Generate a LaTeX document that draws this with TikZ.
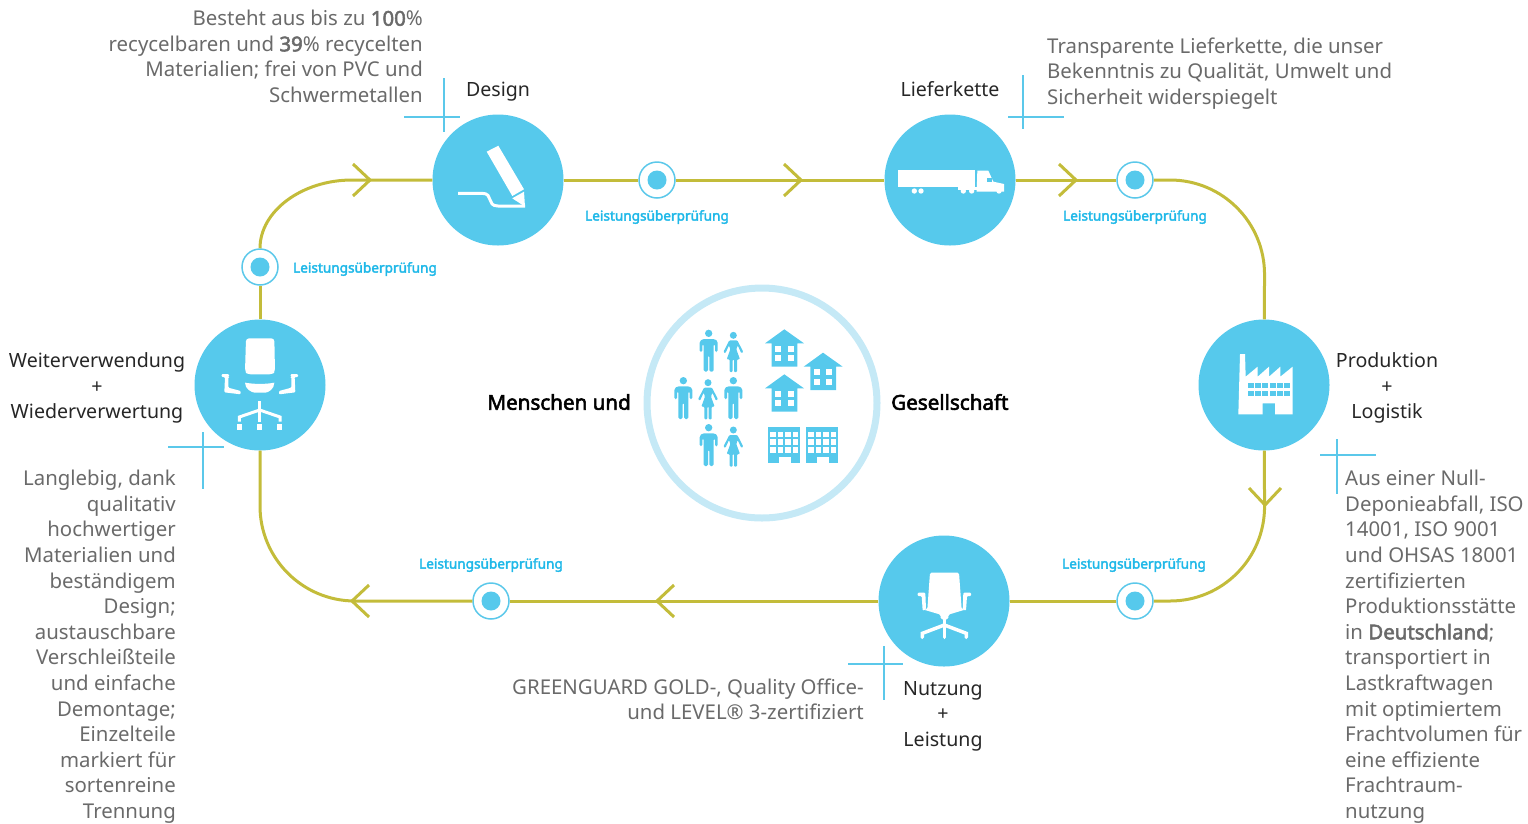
\documentclass[tikz,border=0pt]{standalone}
\usepackage{fontspec}
\setmainfont{Noto Sans}[BoldFont={Noto Sans},BoldFeatures={FakeBold=2.6}]
\definecolor{hubblue}{HTML}{56C9EC}
\definecolor{ringblue}{HTML}{C5E9F6}
\definecolor{markblue}{HTML}{5BC8EA}
\definecolor{checkblue}{HTML}{1FB8E8}
\definecolor{loopgreen}{HTML}{C3BC3A}
\definecolor{greytext}{HTML}{6A6A6A}
\definecolor{darktext}{HTML}{262626}
\tikzset{
    hub/.style={circle, fill=hubblue, minimum size=131pt, inner sep=0pt},
    checkring/.style={circle, draw=markblue, fill=white, line width=1.5pt, minimum size=36pt, inner sep=0pt},
    checkdot/.style={circle, fill=hubblue, minimum size=19pt, inner sep=0pt},
    checklabel/.style={text=checkblue, font=\fontsize{13.6}{15}\selectfont\bfseries, inner sep=0pt},
    steplabel/.style={text=darktext, font=\fontsize{19.6}{25.4}\selectfont, align=center, inner sep=0pt},
    bodytext/.style={text=greytext, font=\fontsize{20.4}{25.6}\selectfont, inner sep=0pt},
    midlabel/.style={text=black, font=\fontsize{20.6}{24}\selectfont\bfseries, inner sep=0pt},
    loopline/.style={draw=loopgreen, line width=3pt},
    markline/.style={draw=markblue, line width=1.5pt},
    chevicon/.pic={\draw[loopline] (-17,-16) -- (0,0) -- (-17,16);},
    manicon/.pic={
        \fill[hubblue] (0,0) circle[radius=11];
        \fill[hubblue, rounded corners=1.5pt] (-27,24) -- (-18,17) -- (18,17) -- (27,24) -- (27,56) -- (19,56) -- (19,32) -- (15,32) -- (15,115) -- (2,115) -- (2,66) -- (-2,66) -- (-2,115) -- (-15,115) -- (-15,32) -- (-19,32) -- (-19,56) -- (-27,56) -- cycle;
    },
    womanicon/.pic={
        \fill[hubblue] (0,0) circle[radius=10.5];
        \fill[hubblue, rounded corners=1pt] (-12,15) -- (12,15) -- (30,50) -- (24,54) -- (13,30) -- (9,42) -- (20,72) -- (11,72) -- (11,110) -- (2,110) -- (2,72) -- (-2,72) -- (-2,110) -- (-11,110) -- (-11,72) -- (-20,72) -- (-9,42) -- (-13,30) -- (-24,54) -- (-30,50) -- cycle;
    },
    houseicon/.pic={
        \fill[hubblue] (0,0) -- (59,42) -- (39,42) -- (39,112) -- (-38,112) -- (-38,42) -- (-58,42) -- cycle;
        \foreach \wx in {-28,10}
            \foreach \wy in {50,78}
                \fill[white] (\wx,\wy) rectangle ++(18,18);
    },
    blockicon/.pic={
        \fill[hubblue] (0,0) rectangle (95,110);
        \foreach \wx in {5,27.5,50,72.5}
            \foreach \wy in {15,38,62}
                \fill[white] (\wx,\wy) rectangle ++(17,16);
        \fill[white] (32,90) rectangle (67,110);
    }
}
\begin{document}
\begin{tikzpicture}[x=1pt, y=-1pt]
    \useasboundingbox (0,0) rectangle (1528,823);

    % stations of the loop
    \node[hub] (design) at (498,180) {};
    \node[hub] (supply) at (950,180) {};
    \node[hub] (factory) at (1264,385) {};
    \node[hub] (usage) at (944,601) {};
    \node[hub] (reuse) at (260,385) {};

    \node[checkring] (checkA) at (657,180) {};
    \node[checkring] (checkB) at (1135,180) {};
    \node[checkring] (checkC) at (1135,601) {};
    \node[checkring] (checkD) at (491,601) {};
    \node[checkring] (checkE) at (260,267) {};
    \foreach \c in {A,B,C,D,E}
        \node[checkdot] (dot\c) at (check\c) {};

    \coordinate (cornerNE) at (1265,180);
    \coordinate (cornerSE) at (1265,601);
    \coordinate (cornerSW) at (260,601);
    \coordinate (topNW) at (352,180);

    % the loop itself
    \draw[loopline] (design) -- (checkA) -- (supply);
    \draw[loopline] (supply) -- (checkB);
    \draw[loopline, rounded corners=95pt] (checkB) -- (cornerNE) -- (factory);
    \draw[loopline, rounded corners=95pt] (factory) -- (cornerSE) -- (checkC);
    \draw[loopline] (checkC) -- (usage);
    \draw[loopline] (usage) -- (checkD);
    \draw[loopline, rounded corners=95pt] (checkD) -- (cornerSW) -- (reuse);
    \draw[loopline] (reuse) -- (checkE);
    \draw[loopline] (checkE) .. controls (260,211) and (302,180) .. (topNW) -- (design);

    \pic at (370,180) {chevicon};
    \pic at (801,180) {chevicon};
    \pic at (1076,180) {chevicon};
    \pic[rotate=-90] at (1265,505) {chevicon};
    \pic[rotate=180] at (657,601) {chevicon};
    \pic[rotate=180] at (352,601) {chevicon};

    % little crosses beside the texts
    \draw[markline] (404,117) -- (460,117);
    \draw[markline] (444,78) -- (444,132);
    \draw[markline] (1008,117) -- (1064,117);
    \draw[markline] (1023,75) -- (1023,129);
    \draw[markline] (168,447) -- (224,447);
    \draw[markline] (203,432) -- (203,489);
    \draw[markline] (1320,455) -- (1376,455);
    \draw[markline] (1337,439) -- (1337,494);
    \draw[markline] (848,664) -- (903,664);
    \draw[markline] (884,646) -- (884,700);

    % pencil
    \fill[white] (486.7,151.7) -- (498.3,145.7) -- (524,189.3) -- (512.3,196) -- cycle;
    \fill[white] (524,191.7) -- (525,206.7) -- (512.3,198.3) -- cycle;
    \draw[white, line width=3pt] (458,193.3) -- (482,193.3) .. controls (494,193.3) and (486,206) .. (498,206) -- (525,206);

    % truck
    \begin{scope}[shift={(880,110)}, scale=1/3]
        \fill[white] (53,180) rectangle (285,232);
        \fill[white] (235,232) rectangle (290,240);
        \fill[white] (292,182) -- (325,182) -- (340,215) -- (372,222) -- (372,245) -- (290,245) -- cycle;
        \fill[hubblue] (320,204) rectangle (335,215);
        \foreach \wx in {103,123,250,275,357}
            \fill[white] (\wx,243) circle[radius=8];
    \end{scope}

    % factory
    \begin{scope}[shift={(1190,315)}, scale=1/3]
        \fill[white] (145,298) -- (150,117) -- (165,117) -- (167,185) -- (203,155) -- (203,185) -- (237,155) -- (237,185) -- (271,155) -- (271,185) -- (308,155) -- (308,298) -- (255,298) -- (255,265) -- (218,265) -- (218,298) -- cycle;
        \foreach \wx in {173,195,217,239,261,283}
            \foreach \wy in {203,227}
                \fill[hubblue] (\wx,\wy) rectangle ++(18,16);
    \end{scope}

    % chair with arms apart
    \begin{scope}[shift={(185,315)}, scale=1/3]
        \fill[white, rounded corners=3pt] (183,70) -- (268,70) -- (270,170) -- (262,178) -- (188,178) -- (180,170) -- cycle;
        \fill[white] (180,203) .. controls (210,208) and (240,208) .. (268,203) .. controls (268,222) and (250,233) .. (240,233) -- (210,233) .. controls (200,233) and (180,222) .. (180,203) -- cycle;
        \fill[white, rounded corners=1pt] (110,177) -- (132,177) -- (132,186) -- (130,186) -- (130,218) -- (167,228) -- (167,238) -- (118,232) -- (120,186) -- (110,186) -- cycle;
        \fill[white, rounded corners=1pt] (339,177) -- (317,177) -- (317,186) -- (319,186) -- (319,218) -- (282,228) -- (282,238) -- (331,232) -- (329,186) -- (339,186) -- cycle;
        \draw[white, line width=3pt] (224,258) -- (224,320);
        \draw[white, line width=3pt] (163,320) -- (163,306) -- (224,285) -- (285,306) -- (285,320);
        \foreach \wx in {163,224,284}
            \fill[white] (\wx-7,328) rectangle ++(14,16);
    \end{scope}

    % chair in use
    \begin{scope}[shift={(870,530)}, scale=1/3]
        \fill[white, rounded corners=1.5pt] (180,128) -- (267,128) -- (275,238) -- (288,238) -- (235,254) -- (235,268) -- (212,268) -- (212,254) -- (158,238) -- (172,238) -- cycle;
        \fill[white, rounded corners=1pt] (143,188) -- (166,188) -- (168,238) -- (158,242) -- (155,198) -- (143,198) -- cycle;
        \fill[white, rounded corners=1pt] (303,188) -- (280,188) -- (278,238) -- (288,242) -- (291,198) -- (303,198) -- cycle;
        \draw[white, line width=3.5pt, line cap=round] (157,322) -- (157,310) -- (223,285) -- (289,310) -- (289,322);
        \draw[white, line width=3.5pt, line cap=round] (223,268) -- (223,322);
    \end{scope}

    % centre
    \node[circle, draw=ringblue, line width=7pt, minimum size=230pt, inner sep=0pt] (people) at (762,403) {};
    \begin{scope}[shift={(640,280)}, scale=1/3]
        \foreach \hx/\hy in {206/160,130/302,280/302,206/443}
            \pic[transform shape] at (\hx,\hy) {manicon};
        \foreach \hx/\hy in {280/166,204/308,280/450}
            \pic[transform shape] at (\hx,\hy) {womanicon};
        \foreach \hx/\hy in {433/148,549/218,433/283}
            \pic[transform shape] at (\hx,\hy) {houseicon};
        \foreach \hx in {385,499}
            \pic[transform shape] at (\hx,440) {blockicon};
    \end{scope}

    \node[midlabel, anchor=east] (peopleA) at (631,402) {Menschen und};
    \node[midlabel, anchor=west] (peopleB) at (891,402) {Gesellschaft};

    % labels
    \node[steplabel] (designlabel) at (498,91.5) {Design};
    \node[steplabel] (supplylabel) at (950,89.5) {Lieferkette};
    \node[steplabel] (factorylabel) at (1387,388) {Produktion\\+\\Logistik};
    \node[steplabel] (usagelabel) at (943,716) {Nutzung\\+\\Leistung};
    \node[steplabel] (reuselabel) at (97,388) {Weiterverwendung\\+\\Wiederverwertung};

    \node[checklabel] (labelA) at (657,217) {Leistungsüberprüfung};
    \node[checklabel] (labelB) at (1135,217) {Leistungsüberprüfung};
    \node[checklabel] (labelC) at (1134,565) {Leistungsüberprüfung};
    \node[checklabel] (labelD) at (491,565) {Leistungsüberprüfung};
    \node[checklabel] (labelE) at (365,269) {Leistungsüberprüfung};

    % texts
    \node[bodytext, align=right, anchor=north east] (textdesign) at (423,10) {Besteht aus bis zu \textbf{100}\%\\recycelbaren und \textbf{39}\% recycelten\\Materialien; frei von PVC und\\Schwermetallen};
    \node[bodytext, align=left, anchor=north west] (textsupply) at (1047,37.5) {Transparente Lieferkette, die unser\\Bekenntnis zu Qualität, Umwelt und\\Sicherheit widerspiegelt};
    \node[bodytext, align=left, anchor=north west] (textfactory) at (1345,470) {Aus einer Null-\\Deponieabfall, ISO\\14001, ISO 9001\\und OHSAS 18001\\zertifizierten\\Produktionsstätte\\in \textbf{Deutschland};\\transportiert in\\Lastkraftwagen\\mit optimiertem\\Frachtvolumen für\\eine effiziente\\Frachtraum-\\nutzung};
    \node[bodytext, align=right, anchor=north east] (textusage) at (864,678.5) {GREENGUARD GOLD-, Quality Office-\\und LEVEL® 3-zertifiziert};
    \node[bodytext, align=right, anchor=north east] (textreuse) at (176,470) {Langlebig, dank\\qualitativ\\hochwertiger\\Materialien und\\beständigem\\Design;\\austauschbare\\Verschleißteile\\und einfache\\Demontage;\\Einzelteile\\markiert für\\sortenreine\\Trennung};
\end{tikzpicture}
\end{document}
